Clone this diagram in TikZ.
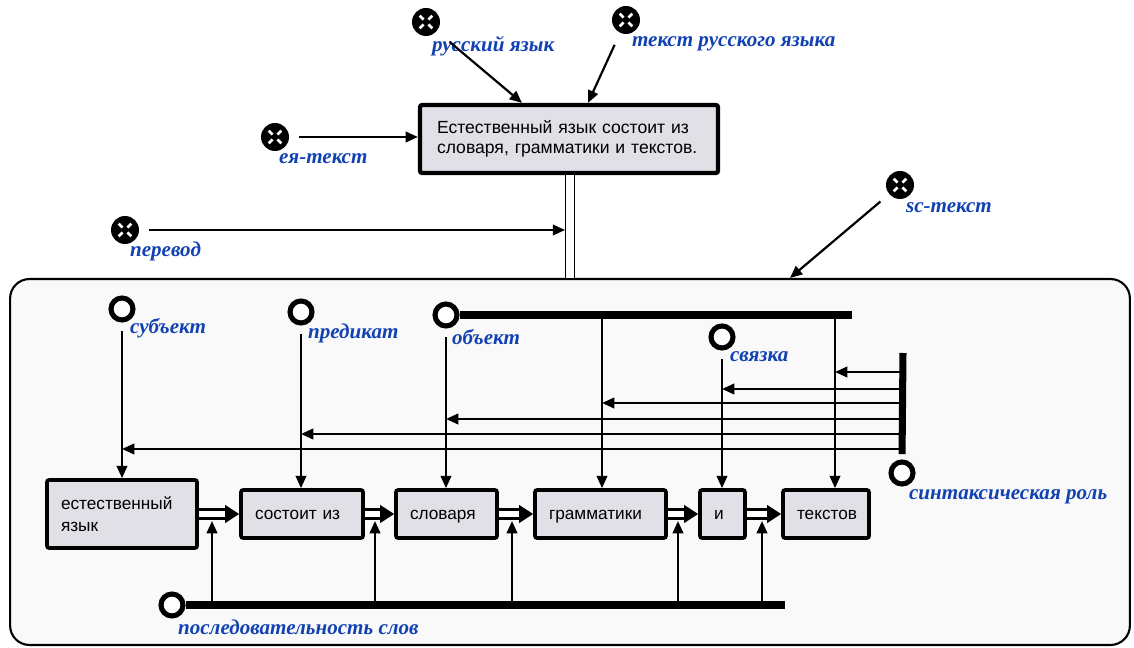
\documentclass[tikz,border=0pt]{standalone}
\usepackage{fontspec}
\setmainfont{Liberation Sans}
\newfontfamily\idfont{Liberation Serif}
\usetikzlibrary{arrows.meta,calc,positioning}

\definecolor{idblue}{RGB}{18,66,178}
\definecolor{boxgray}{RGB}{224,224,230}
\definecolor{framegray}{RGB}{249,249,249}

\tikzset{
  keynode/.style={circle, fill=black, minimum size=0.56cm, inner sep=0pt,
    path picture={\foreach \a in {45,135,225,315}
      \draw[white, line width=1.6pt] ($(path picture bounding box.center)+(\a:3.5)$) -- ($(path picture bounding box.center)+(\a:9)$);}},
  rolenode/.style={circle, draw, line width=2.9pt, fill=white, minimum size=0.44cm, inner sep=0pt},
  idtf/.style={anchor=west, inner sep=0pt, text=idblue, font=\idfont\bfseries\itshape\fontsize{12}{14}\selectfont},
  cornermark/.style={path picture={\fill (path picture bounding box.north west) -- ++(8,0) -- ++(-8,8) -- cycle;}},
  sentbox/.style={draw, line width=2.4pt, fill=boxgray, rounded corners=1.2pt, cornermark,
    minimum width=5.96cm, minimum height=1.36cm, text width=5.28cm, align=left,
    font=\fontsize{10}{11.4}\selectfont},
  wordbox/.style={draw, line width=2.1pt, fill=boxgray, rounded corners=1.2pt, cornermark,
    minimum height=0.96cm, inner xsep=0.28cm, align=left, font=\fontsize{9.8}{12.5}\selectfont},
  oneline/.style={text height=1.55ex, text depth=0.45ex},
  scframe/.style={draw, line width=1.2pt, fill=framegray, rounded corners=11pt,
    minimum width=22.4cm, minimum height=7.32cm},
  bar/.style={line width=4pt},
  seqarrow/.style={double=white, double distance=3.6pt, line width=1.4pt, -{Triangle[length=8pt,width=10pt]}}
}

\begin{document}
\begin{tikzpicture}[x=0.02cm, y=-0.02cm, >={Triangle[length=7pt,width=6pt]}, line width=1.25pt]
\useasboundingbox (0,0) rectangle (1134,648);

% sc-text frame
\node[scframe] (frame) at (570,462) {};

% keynodes outside
\node[keynode] (ruslang) at (426,22) {};
\node[idtf] (ruslanglbl) at (431,46) {русский язык};
\node[keynode] (rustext) at (626,20) {};
\node[idtf] (rustextlbl) at (631,44) {текст русского языка};
\node[keynode] (natext) at (275,137) {};
\node[idtf] (natextlbl) at (278,159) {ея-текст};
\node[keynode] (transl) at (125,230) {};
\node[idtf] (transllbl) at (129,251) {перевод};
\node[keynode] (sctext) at (900,185) {};
\node[idtf] (sctextlbl) at (905,208) {sc-текст};

\node[sentbox] (mainsent) at (569,139) {Естественный язык состоит из\\словаря, грамматики и текстов.};
\coordinate (pairx) at (570,0);

\draw[->, shorten <=9pt] (ruslang) -- ($(mainsent.north)+(-47,0)$);
\draw[->, shorten <=7pt] (rustext) -- ($(mainsent.north)+(19,0)$);
\draw[->, shorten <=5pt] (natext) -- (natext -| mainsent.west);
\draw[double, double distance=4.2pt, line width=0.8pt] (mainsent.south -| pairx) -- (frame.north -| pairx);
\draw[->, shorten <=5pt, shorten >=2.8pt] (transl) -- (transl -| pairx);
\draw[->, shorten <=6pt] (sctext) -- (frame.north -| 790,0);

% words of the sentence
\node[wordbox, minimum width=3cm, minimum height=1.36cm, text width=2.44cm] (w1) at (122,514) {естественный\\язык};
\node[wordbox, oneline, minimum width=2.44cm, text width=1.88cm] (w2) at (302,514) {состоит из};
\node[wordbox, oneline, minimum width=2.02cm, text width=1.46cm] (w3) at (446.5,514) {словаря};
\node[wordbox, oneline, minimum width=2.62cm, text width=2.06cm] (w4) at (600.5,514) {грамматики};
\node[wordbox, oneline, minimum width=0.9cm, text width=0.34cm] (w5) at (722.5,514) {и};
\node[wordbox, oneline, minimum width=1.72cm, text width=1.16cm] (w6) at (826,514) {текстов};

% roles
\node[rolenode] (subj) at (122,309) {};
\node[idtf] (subjlbl) at (129,328) {субъект};
\node[rolenode] (pred) at (301,312) {};
\node[idtf] (predlbl) at (307,333) {предикат};
\node[rolenode] (obj) at (446,315) {};
\node[idtf] (objlbl) at (451,337) {объект};
\node[rolenode] (svyaz) at (722,337) {};
\node[idtf] (svyazlbl) at (729,357) {связка};
\node[rolenode] (synrole) at (902,473) {};
\node[idtf] (synrolelbl) at (908,497) {синтаксическая роль};
\node[rolenode] (seq) at (172,605) {};
\node[idtf] (seqlbl) at (177,627) {последовательность слов};

\coordinate (col4) at (602,315);
\coordinate (col6) at (835,315);
\coordinate (objend) at (852,315);
\coordinate (synbartop) at (903,353);
\coordinate (seqend) at (785,605);

\draw[bar] (obj.east) -- (objend);
\draw[bar, shorten <=3pt] (synrole.north) -- (synbartop);
\draw[bar] (seq.east) -- (seqend);

\draw[->, shorten <=5pt] (subj) -- (subj |- w1.north);
\draw[->, shorten <=5pt] (pred) -- (pred |- w2.north);
\draw[->, shorten <=5pt] (obj) -- (obj |- w3.north);
\draw[->] (col4) -- (col4 |- w4.north);
\draw[->, shorten <=5pt] (svyaz) -- (svyaz |- w5.north);
\draw[->] (col6) -- (col6 |- w6.north);

\foreach \c/\y in {col6/372, svyaz/389, col4/403, obj/419, pred/434, subj/449}
  \draw[->] (synbartop |- 0,\y) -- (\c |- 0,\y);

\foreach \a/\b/\x in {w1/w2/212, w2/w3/375, w3/w4/512, w4/w5/678, w5/w6/762} {
  \draw[seqarrow] (\a) -- (\b);
  \draw[->, shorten >=4pt] (seq -| \x,0) -- (\x,0 |- \a.center);
}
\end{tikzpicture}
\end{document}
